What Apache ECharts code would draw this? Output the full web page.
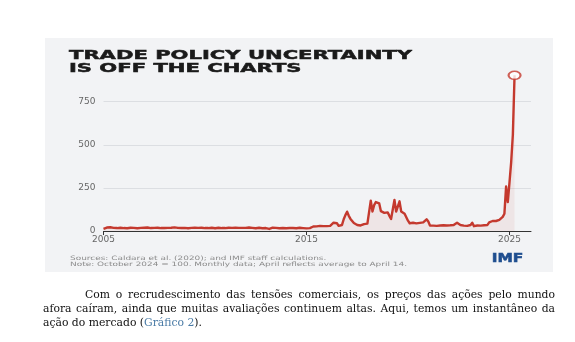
<!DOCTYPE html>
<html><head><meta charset="utf-8">
<script src="https://cdn.jsdelivr.net/npm/echarts@6/dist/echarts.min.js"></script>
<style>html,body{margin:0;padding:0;background:#fff}#c{width:575px;height:342px}</style>
</head><body><div id="c"></div>
<script>
// Trade policy uncertainty index, monthly (Oct 2024 = 100), Jan 2005 - Apr 2025
const startYear = 2005;
const tpu2005 = [12,16,20,24,22,20,18,19,17,18,19,18];
const tpu2006 = [17,18,16,18,19,17,18,17,16,17,18,20];
const tpu2007 = [19,18,20,21,17,16,18,17,19,18,17,18];
const tpu2008 = [17,19,18,20,19,18,21,19,18,20,17,16];
const tpu2009 = [18,17,16,19,18,22,19,17,18,17,19,18];
const tpu2010 = [17,16,17,18,19,17,16,18,19,20,17,18];
const tpu2011 = [17,18,19,16,18,17,19,22,18,17,18,19];
const tpu2012 = [18,17,20,19,18,17,16,18,19,17,16,18];
const tpu2013 = [17,18,12,17,19,20,18,17,16,18,17,15];
const tpu2014 = [16,18,17,15,17,18,16,17,19,16,17,18];
const tpu2015 = [15,16,17,22,26,24,27,25,30,40,28,27];
const tpu2016 = [28,27,30,35,48,52,45,30,28,35,68,92];
const tpu2017 = [112,88,70,68,46,38,35,33,32,35,40,38];
const tpu2018 = [43,50,176,113,150,168,167,160,115,107,105,108];
const tpu2019 = [108,88,70,80,180,113,120,172,113,105,100,102];
const tpu2020 = [60,45,47,48,46,44,45,47,46,50,52,68];
const tpu2021 = [55,32,30,31,33,30,38,32,30,33,31,32];
const tpu2022 = [30,33,32,35,45,48,40,35,33,31,32,30];
const tpu2023 = [32,35,48,28,33,32,34,31,30,33,36,35];
const tpu2024 = [50,55,58,60,58,62,65,75,82,100,258,168];
const tpu2025 = [280,400,560,903];
const tpuByYear = [tpu2005,tpu2006,tpu2007,tpu2008,tpu2009,tpu2010,tpu2011,tpu2012,tpu2013,tpu2014,
  tpu2015,tpu2016,tpu2017,tpu2018,tpu2019,tpu2020,tpu2021,tpu2022,tpu2023,tpu2024,tpu2025];
const xTickYears = [2005, 2015, 2025];
const yTickValues = [0, 250, 500, 750];

const titleLines = ['TRADE POLICY UNCERTAINTY', 'IS OFF THE CHARTS'];
const noteLines = ['Sources: Caldara et al. (2020); and IMF staff calculations.',
  'Note: October 2024 = 100. Monthly data; April reflects average to April 14.'];
const bodyLine1 = 'Com o recrudescimento das tensões comerciais, os preços das ações pelo mundo';
const bodyLine2 = 'afora caíram, ainda que muitas avaliações continuem altas. Aqui, temos um instantâneo da';
const bodyLine3 = ['ação do mercado (', 'Gráfico 2', ').'];

const seriesData = [];
tpuByYear.forEach((arr, yi) => arr.forEach((v, m) => seriesData.push([startYear + yi + m / 12, v])));
const lastPoint = seriesData[seriesData.length - 1];

const RED = '#c4392e';
const mctx = document.createElement('canvas').getContext('2d');
function measure(text, font) { mctx.font = font; return mctx.measureText(text).width; }

const graphics = [];
graphics.push({ type: 'rect', z: -100, shape: { x: 45, y: 38, width: 508, height: 234 }, style: { fill: '#f2f3f5' } });

// title
const titleFont = 'bold 13px "DejaVu Sans"';
const sT = 343 / measure(titleLines[0], titleFont);
[56, 68.6].forEach((y, i) => {
  graphics.push({ type: 'text', x: 69, y: y, scaleX: sT, style: { text: titleLines[i], font: titleFont, fill: '#1a1a1a', stroke: '#1a1a1a', lineWidth: 0.5, verticalAlign: 'middle', align: 'left' } });
});
// notes
const noteFont = '6px "DejaVu Sans"';
const sN = 337 / measure(noteLines[1], noteFont);
[258.3, 264.2].forEach((y, i) => {
  graphics.push({ type: 'text', x: 70, y: y, scaleX: sN, style: { text: noteLines[i], font: noteFont, fill: '#8c8c8c', verticalAlign: 'middle', align: 'left' } });
});
// IMF logo
const imfFont = 'bold 11.5px "DejaVu Sans"';
const sI = 31.6 / measure('IMF', imfFont);
graphics.push({ type: 'text', x: 491.7, y: 259.5, scaleX: sI, style: { text: 'IMF', font: imfFont, fill: '#1f4e8f', stroke: '#1f4e8f', lineWidth: 0.5, verticalAlign: 'middle', align: 'left' } });

// body paragraph (justified)
const bodyFont = '10.8px "DejaVu Serif"';
function justify(line, x0, x1, y) {
  const words = line.split(' ');
  const widths = words.map(w => measure(w, bodyFont));
  const sum = widths.reduce((a, b) => a + b, 0);
  const gap = (x1 - x0 - sum) / (words.length - 1);
  let x = x0;
  words.forEach((w, i) => {
    graphics.push({ type: 'text', x: x, y: y, style: { text: w, font: bodyFont, fill: '#111', verticalAlign: 'middle', align: 'left' } });
    x += widths[i] + gap;
  });
}
justify(bodyLine1, 85, 555, 295);
justify(bodyLine2, 43, 555, 309.3);
let bx = 43;
bodyLine3.forEach((t, i) => {
  graphics.push({ type: 'text', x: bx, y: 323.5, style: { text: t, font: bodyFont, fill: i === 1 ? '#4a7ba6' : '#111', verticalAlign: 'middle', align: 'left' } });
  bx += measure(t, bodyFont);
});

const chart = echarts.init(document.getElementById('c'), null, { renderer: 'canvas' });
chart.setOption({
  backgroundColor: '#fff',
  animation: false,
  grid: { left: 103.5, right: 44, top: 58.6, bottom: 111, containLabel: false },
  xAxis: {
    type: 'value', min: 2005, max: 2026.06,
    axisLine: { show: true, onZero: true, lineStyle: { color: '#333', width: 1 } },
    axisTick: { show: true, customValues: xTickYears, length: 4, lineStyle: { color: '#333', width: 1 } },
    axisLabel: { customValues: xTickYears, formatter: v => String(v), fontSize: 9, color: '#666', margin: 4, fontFamily: 'DejaVu Sans' },
    splitLine: { show: false }
  },
  yAxis: {
    type: 'value', min: 0, max: 1000, interval: 250,
    axisLine: { show: false }, axisTick: { show: false },
    axisLabel: { showMaxLabel: false, fontSize: 9, color: '#666', margin: 8, fontFamily: 'DejaVu Sans' },
    splitLine: { show: true, showMinLine: false, showMaxLine: false, lineStyle: { color: '#dcdee2', width: 1 } }
  },
  series: [
    { type: 'line', data: seriesData, showSymbol: false, smooth: false,
      lineStyle: { color: RED, width: 2.4, join: 'round' },
      areaStyle: { color: 'rgba(196,57,46,0.10)' }, z: 3 },
    { type: 'scatter', data: [lastPoint], symbol: 'circle', symbolSize: [12, 8],
      itemStyle: { color: '#fff', borderColor: RED, borderWidth: 1.8 }, z: 4 }
  ],
  graphic: { elements: graphics }
});
</script>
</body></html>
